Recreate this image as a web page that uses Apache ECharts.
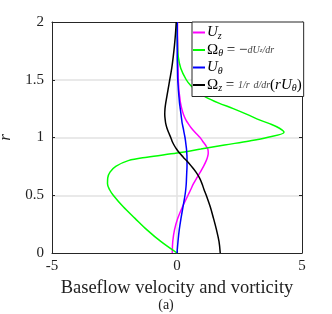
<!DOCTYPE html>
<html>
<head>
<meta charset="utf-8">
<script src="https://cdn.jsdelivr.net/npm/echarts@6/dist/echarts.min.js"></script>
<style>
html,body{margin:0;padding:0;background:#fff;}
#c{width:332px;height:314px;}
</style>
</head>
<body>
<div id="c"></div>
<script>
// radial positions r (shared by all series)
var rValues = [0,0.1,0.2,0.3,0.4,0.5,0.55,0.6,0.65,0.7,0.75,0.8,0.83,0.866,0.9,0.935,0.97,1.0,1.045,1.08,1.12,1.15,1.2,1.25,1.3,1.35,1.4,1.45,1.5,1.6,1.7,1.8,1.9,2.0];
// U_z (magenta)
var uzValues = [-0.19,-0.17,-0.1,0.03,0.22,0.44,0.55,0.66,0.79,0.93,1.06,1.17,1.22,1.25,1.23,1.14,1.02,0.92,0.72,0.58,0.45,0.36,0.26,0.19,0.14,0.11,0.08,0.065,0.05,0.04,0.03,0.03,0.02,0.02];
// Omega_theta (green)
var omegaThetaValues = [0,-0.65,-1.2,-1.68,-2.15,-2.55,-2.7,-2.78,-2.77,-2.68,-2.45,-1.95,-1.2,0,0.95,1.9,2.9,3.6,4.28,4.1,3.7,3.32,2.8,2.25,1.65,1.15,0.8,0.55,0.37,0.15,0.05,0.02,0.01,0];
// U_theta (blue)
var uthetaValues = [0,0.04,0.09,0.16,0.24,0.32,0.35,0.37,0.38,0.39,0.4,0.4,0.4,0.39,0.38,0.36,0.34,0.32,0.28,0.25,0.21,0.19,0.16,0.13,0.1,0.08,0.06,0.045,0.03,0.02,0.01,0.01,0.01,0.01];
// Omega_z (black)
var omegaZValues = [1.73,1.68,1.58,1.46,1.33,1.17,1.08,1.0,0.9,0.76,0.58,0.38,0.25,0.1,-0.02,-0.12,-0.2,-0.25,-0.34,-0.4,-0.45,-0.47,-0.49,-0.48,-0.45,-0.41,-0.37,-0.33,-0.29,-0.21,-0.15,-0.1,-0.06,-0.03];

var xTicks = [-5, 0, 5];
var yTicks = [0, 0.5, 1, 1.5, 2];
var seriesNames = ['Uz', 'OmegaTheta', 'Utheta', 'OmegaZ'];
var seriesColors = ['#ff00ff', '#00ff00', '#0000ff', '#000000'];
var seriesValues = [uzValues, omegaThetaValues, uthetaValues, omegaZValues];

var FONT = '"Liberation Serif", "DejaVu Serif", serif';
var AX = '#262626';

function pairs(vals) {
  return vals.map(function (v, i) { return [v, rValues[i]]; });
}

var legendRich = {
  it: {fontFamily: FONT, fontStyle: 'italic', fontSize: 15, color: '#000', lineHeight: 17},
  n: {fontFamily: FONT, fontSize: 15, color: '#000', lineHeight: 17},
  sub: {fontFamily: FONT, fontStyle: 'italic', fontSize: 10, color: '#000', verticalAlign: 'bottom', lineHeight: 12, padding: [5, 0, 0, 0]},
  fr: {fontFamily: FONT, fontStyle: 'italic', fontSize: 10, color: '#444', lineHeight: 17},
  frs: {fontFamily: FONT, fontStyle: 'italic', fontSize: 7, color: '#444', lineHeight: 17}
};
var legendLabels = {
  Uz: '{it|U}{sub|z}',
  OmegaTheta: '{n|Ω}{sub|θ}{n| = −}{fr|dU}{frs|z}{fr|/dr}',
  Utheta: '{it|U}{sub|θ}',
  OmegaZ: '{n|Ω}{sub|z}{n| = }{fr|1/r}{n| }{fr|d/dr}{n|(}{it|rU}{sub|θ}{n|)}'
};

var chart = echarts.init(document.getElementById('c'), null, {renderer: 'canvas'});
var series = seriesNames.map(function (name, k) {
  return {
    name: name,
    type: 'line',
    data: pairs(seriesValues[k]),
    smooth: 0.35,
    symbol: 'none',
    lineStyle: {color: seriesColors[k], width: 1.5},
    itemStyle: {color: seriesColors[k]},
    z: 3
  };
});

chart.setOption({
  animation: false,
  backgroundColor: '#fff',
  grid: {left: 52, top: 22, width: 250, height: 231, show: false, containLabel: false, outerBoundsMode: 'none'},
  legend: {
    data: seriesNames,
    orient: 'vertical',
    left: 192,
    top: 22,
    padding: [2, 2, 3, 1],
    itemGap: 0.5,
    itemWidth: 12,
    itemHeight: 2,
    icon: 'rect',
    backgroundColor: '#fff',
    borderColor: AX,
    borderWidth: 1,
    borderRadius: 0,
    selectedMode: false,
    formatter: function (name) { return legendLabels[name]; },
    textStyle: {rich: legendRich, lineHeight: 17, padding: [0, 0, 0, -3]}
  },
  xAxis: [{
    type: 'value', min: -5, max: 5, interval: 5, position: 'bottom',
    name: 'Baseflow velocity and vorticity', nameLocation: 'middle', nameGap: 24,
    nameTextStyle: {fontFamily: FONT, fontSize: 18.5, color: '#222'},
    axisLine: {show: true, onZero: false, lineStyle: {color: AX, width: 1}},
    axisTick: {show: true, inside: true, length: 3, lineStyle: {color: AX}},
    axisLabel: {fontFamily: FONT, fontSize: 15, color: '#222', margin: 6,
      formatter: function (v) { return xTicks.indexOf(v) >= 0 ? String(v) : ''; }},
    splitLine: {show: true, lineStyle: {color: '#e2e2e2', width: 1.5},
      showMinLine: false, showMaxLine: false}
  }, {
    type: 'value', min: -5, max: 5, interval: 5, position: 'top',
    axisLine: {show: true, onZero: false, lineStyle: {color: AX, width: 1}},
    axisTick: {show: true, inside: true, length: 3, lineStyle: {color: AX}},
    axisLabel: {show: false}, splitLine: {show: false}
  }],
  yAxis: [{
    type: 'value', min: 0, max: 2, interval: 0.5, position: 'left',
    name: 'r', nameLocation: 'middle', nameGap: 33, nameRotate: 90,
    nameTextStyle: {fontFamily: FONT, fontSize: 17, fontStyle: 'italic', color: '#222'},
    axisLine: {show: true, onZero: false, lineStyle: {color: AX, width: 1}},
    axisTick: {show: true, inside: true, length: 3, lineStyle: {color: AX}},
    axisLabel: {fontFamily: FONT, fontSize: 15, color: '#222', margin: 8,
      formatter: function (v) { return yTicks.indexOf(v) >= 0 ? String(v) : ''; }},
    splitLine: {show: true, lineStyle: {color: '#e2e2e2', width: 1.5},
      showMinLine: false, showMaxLine: false}
  }, {
    type: 'value', min: 0, max: 2, interval: 0.5, position: 'right',
    axisLine: {show: true, onZero: false, lineStyle: {color: AX, width: 1}},
    axisTick: {show: true, inside: true, length: 3, lineStyle: {color: AX}},
    axisLabel: {show: false}, splitLine: {show: false}
  }],
  graphic: [{
    type: 'text', left: 'center', top: 298,
    style: {text: '(a)', fontFamily: FONT, fontSize: 14, fill: '#222'}
  }],
  series: series
});
</script>
</body>
</html>
